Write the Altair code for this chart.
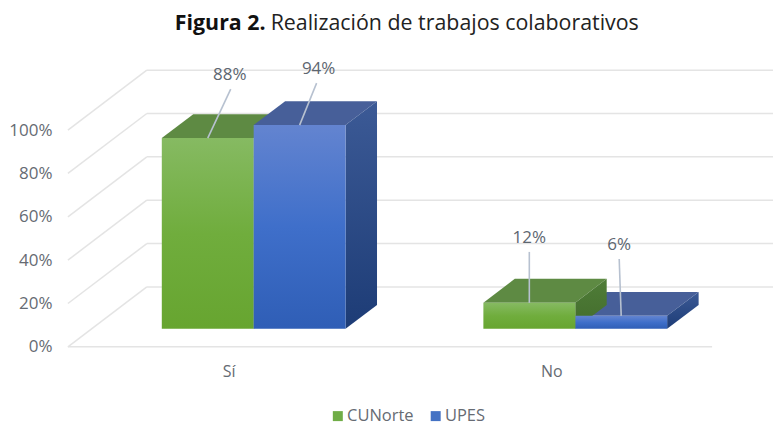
import altair as alt
import pandas as pd

# ---- values ----
categories = ["Sí", "No"]
series = ["CUNorte", "UPES"]
cunorte = [88, 12]
upes = [94, 6]
grid_values = [0, 20, 40, 60, 80, 100]

# ---- drawing constants: scale of the fake 3D scene ----
PX_PER_PCT = 339 / 156.2
BASE = 18 / PX_PER_PCT          # bar floor above the front floor line
DX, DY = 31.5, 24 / PX_PER_PCT  # bar depth
WALL_DX, WALL_DY = 79, 60 / PX_PER_PCT  # wall depth
BAR_W = 92
RIGHT = 774
CAT_LEFT = {"Sí": 162, "No": 484}
CAT_LABEL_X = {"Sí": 229, "No": 552}
LEADER = {("Sí", "CUNorte"): (23, 49), ("Sí", "UPES"): (17, 42),
          ("No", "CUNorte"): (0, 51), ("No", "UPES"): (-2, 57)}
FONT = "Open Sans"
GREY = "#666b73"

x_scale = alt.Scale(domain=[60, RIGHT], nice=False, zero=False)
y_scale = alt.Scale(domain=[0, 156.2], nice=False, zero=True)
x_axis = alt.Axis(values=list(CAT_LABEL_X.values()), grid=False, ticks=False, domain=False,
                  labelExpr="datum.value < 400 ? 'Sí' : 'No'", labelFont=FONT, labelFontSize=16,
                  labelColor=GREY, labelPadding=17, labelAngle=0, title=None)
y_axis = alt.Axis(values=grid_values, grid=False, ticks=False, domain=False,
                  labelExpr="datum.value + '%'", labelFont=FONT, labelFontSize=17,
                  labelColor=GREY, labelPadding=8, title=None, minExtent=52, maxExtent=52)
X = alt.X("x:Q", scale=x_scale, axis=x_axis)
Y = alt.Y("y:Q", scale=y_scale, axis=y_axis)


def grad(top, bottom, mid=None):
    stops = [alt.GradientStop(offset=0, color=top)]
    if mid:
        stops.append(alt.GradientStop(offset=0.5, color=mid))
    stops.append(alt.GradientStop(offset=1, color=bottom))
    return alt.Gradient(gradient="linear", x1=0, x2=0, y1=0, y2=1, stops=stops)


FRONT = {"CUNorte": grad("#86ba62", "#67a530", "#70ad3d"), "UPES": grad("#6384d0", "#2f5eb6", "#3f6fca")}
SIDE = {"CUNorte": grad("#4f7d38", "#436c2c"), "UPES": grad("#3c5a96", "#1d3c76")}
TOP = {"CUNorte": "#5e8a43", "UPES": "#475f99"}


def rules(rows, color, width):
    return alt.Chart(pd.DataFrame(rows)).mark_rule(color=color, strokeWidth=width).encode(
        x=X, x2="x2:Q", y=Y, y2="y2:Q")


# walls and floor
wall = []
for v in grid_values:
    wall.append(dict(x=68, x2=68 + WALL_DX, y=v, y2=v + WALL_DY))
    wall.append(dict(x=68 + WALL_DX, x2=RIGHT, y=v + WALL_DY, y2=v + WALL_DY))
wall.append(dict(x=68, x2=713, y=0, y2=0))
layers = [rules(wall, "#e4e4e4", 1.5)]

# legend carrier: plain bars by series, entirely covered by the gradient fronts
base_rows = []
for i, c in enumerate(categories):
    left = CAT_LEFT[c]
    for j, (s, vals) in enumerate(zip(series, [cunorte, upes])):
        base_rows.append(dict(cat=c, series=s, x=left + j * BAR_W, x2=left + (j + 1) * BAR_W,
                              y=BASE, y2=BASE + vals[i]))
layers.append(
    alt.Chart(pd.DataFrame(base_rows)).mark_rect(opacity=0.01).encode(
        x=X, x2="x2:Q", y=Y, y2="y2:Q",
        color=alt.Color("series:N", scale=alt.Scale(domain=series, range=["#70ad47", "#4472c4"]),
                        legend=alt.Legend(title=None, orient="none", legendX=270, legendY=400,
                                          direction="horizontal", symbolType="square", symbolSize=100,
                                          symbolOpacity=1, symbolStrokeWidth=0, labelFont=FONT,
                                          labelFontSize=16.5, labelColor=GREY, columnPadding=13,
                                          labelOffset=1, padding=0))))


def top_face(c, j, v):
    l = CAT_LEFT[c] + j * BAR_W
    r = l + BAR_W
    t = BASE + v
    rows = [dict(x=l, y=t, y2=t), dict(x=l + DX, y=t + DY, y2=t),
            dict(x=r, y=t + DY, y2=t), dict(x=r + DX, y=t + DY, y2=t + DY)]
    return alt.Chart(pd.DataFrame(rows)).mark_area(color=TOP[series[j]]).encode(x=X, y=Y, y2="y2:Q")


def side_face(c, j, v):
    r = CAT_LEFT[c] + (j + 1) * BAR_W
    t = BASE + v
    rows = [dict(x=r, y=t, y2=BASE), dict(x=r + DX, y=t + DY, y2=BASE + DY)]
    return alt.Chart(pd.DataFrame(rows)).mark_area(color=SIDE[series[j]]).encode(x=X, y=Y, y2="y2:Q")


def front_face(c, j, v):
    l = CAT_LEFT[c] + j * BAR_W
    rows = [dict(x=l, x2=l + BAR_W, y=BASE, y2=BASE + v)]
    return alt.Chart(pd.DataFrame(rows)).mark_rect(color=FRONT[series[j]]).encode(
        x=X, x2="x2:Q", y=Y, y2="y2:Q")


for i, c in enumerate(categories):
    g, b = cunorte[i], upes[i]
    layers.append(top_face(c, 0, g))
    if g < b:
        layers += [side_face(c, 0, g), top_face(c, 1, b), side_face(c, 1, b),
                   front_face(c, 0, g), front_face(c, 1, b)]
    else:
        layers += [top_face(c, 1, b), side_face(c, 1, b), side_face(c, 0, g),
                   front_face(c, 1, b), front_face(c, 0, g)]

# leaders and value labels
lead, labels = [], []
for i, c in enumerate(categories):
    for j, (s, vals) in enumerate(zip(series, [cunorte, upes])):
        x0 = CAT_LEFT[c] + j * BAR_W + BAR_W / 2
        y0 = BASE + vals[i]
        ox, oy = LEADER[(c, s)]
        lead.append(dict(x=x0, x2=x0 + ox, y=y0, y2=y0 + oy / PX_PER_PCT))
        labels.append(dict(x=x0 + ox - (1 if j == 0 and i == 0 else -2 if j == 1 and i == 0 else 0),
                           y=y0 + (oy + 14) / PX_PER_PCT, t=f"{vals[i]}%"))
layers.append(rules(lead, "#b7c1d0", 1.6))
layers.append(alt.Chart(pd.DataFrame(labels)).mark_text(
    font=FONT, fontSize=17, color="#5d6670", baseline="middle").encode(x=X, y=Y, text="t:N"))

# two-weight title
title_df = pd.DataFrame({"a": ["Figura 2."], "b": ["Realización de trabajos colaborativos"]})
layers.append(alt.Chart(title_df).mark_text(font=FONT, fontSize=21.4, fontWeight="bold", align="left",
                                            baseline="middle", color="#111111").encode(
    x=alt.value(115), y=alt.value(16), text="a:N"))
layers.append(alt.Chart(title_df).mark_text(font=FONT, fontSize=21.4, align="left",
                                            baseline="middle", color="#222222").encode(
    x=alt.value(211), y=alt.value(16), text="b:N"))

chart = alt.layer(*layers).properties(width=RIGHT - 60, height=339, padding=0,
                                      background="white").configure_view(stroke=None)
chart.save("out.html", embed_options={"renderer": "svg", "actions": False})
